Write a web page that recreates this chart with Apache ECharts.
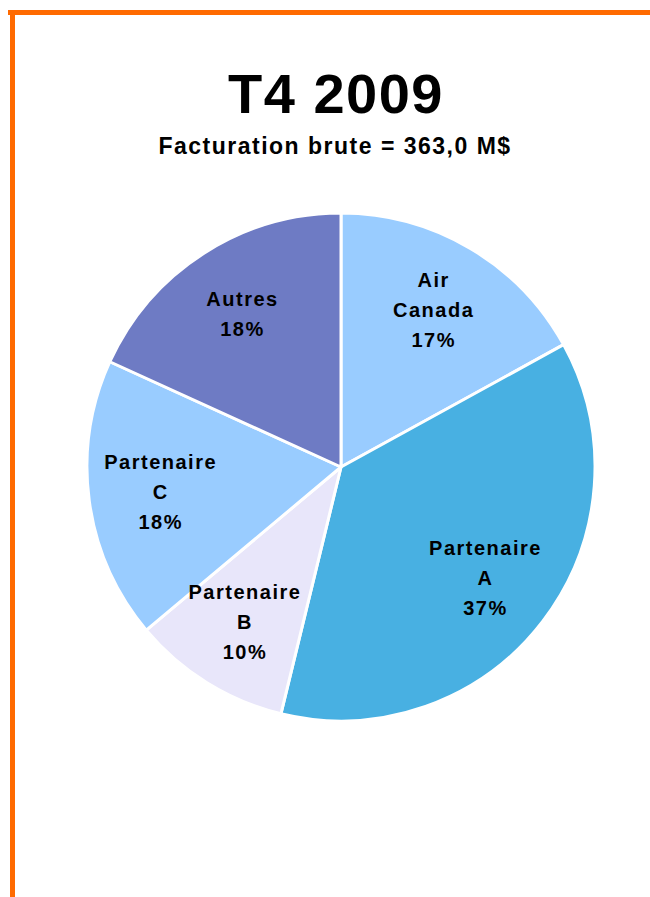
<!DOCTYPE html>
<html>
<head>
<meta charset="utf-8">
<script src="https://cdn.jsdelivr.net/npm/echarts@6/dist/echarts.min.js"></script>
<style>
  html, body { margin: 0; padding: 0; background: #ffffff; }
  #chart { width: 650px; height: 897px; }
  #chart svg text { letter-spacing: 1.5px; }
</style>
</head>
<body>
<div id="chart"></div>
<script>
const titleText = 'T4 2009';
const subtitleText = 'Facturation brute = 363,0 M$';
const categories = ['Air Canada', 'Partenaire A', 'Partenaire B', 'Partenaire C', 'Autres'];
const shares = [17.0, 36.8, 10.1, 17.9, 18.2];
const percentLabels = ['17%', '37%', '10%', '18%', '18%'];
const colors = ['#99CCFF', '#48B0E2', '#E8E6FA', '#99CCFF', '#6E7BC4'];

const chart = echarts.init(document.getElementById('chart'), null, { renderer: 'svg' });

const pieData = categories.map((c, i) => ({
  name: c,
  value: shares[i],
  itemStyle: { color: colors[i] }
}));

const labelData = categories.map((c, i) => ({
  name: c,
  value: shares[i],
  label: { formatter: c.replace(' ', '\n') + '\n' + percentLabels[i] }
}));

const FONT = '"Liberation Sans", Arial, Helvetica, sans-serif';

chart.setOption({
  animation: false,
  graphic: [
    { type: 'rect', shape: { x: 8, y: 10, width: 650, height: 5 }, style: { fill: '#FF6A00' } },
    { type: 'rect', shape: { x: 10, y: 10, width: 5, height: 897 }, style: { fill: '#FF6A00' } },
    { type: 'text', x: 336, y: 93, style: { text: titleText, font: 'bold 56px ' + FONT, fill: '#000', textAlign: 'center', textVerticalAlign: 'middle' } },
    { type: 'text', x: 335, y: 146, style: { text: subtitleText, font: 'bold 23px ' + FONT, fill: '#000', textAlign: 'center', textVerticalAlign: 'middle' } }
  ],
  series: [
    {
      type: 'pie',
      center: [341, 467],
      radius: [0, 254],
      startAngle: 90,
      clockwise: true,
      silent: true,
      label: { show: false },
      labelLine: { show: false },
      itemStyle: { borderColor: '#ffffff', borderWidth: 3 },
      emphasis: { disabled: true },
      data: pieData
    },
    {
      type: 'pie',
      center: [341, 467],
      radius: [104, 254],
      startAngle: 90,
      clockwise: true,
      silent: true,
      itemStyle: { color: 'rgba(0,0,0,0)', borderWidth: 0 },
      emphasis: { disabled: true },
      labelLine: { show: false },
      label: {
        show: true,
        position: 'inside',
        color: '#000',
        fontFamily: FONT,
        fontWeight: 'bold',
        fontSize: 20,
        lineHeight: 30,
        align: 'center'
      },
      data: labelData
    }
  ]
});
</script>
</body>
</html>
